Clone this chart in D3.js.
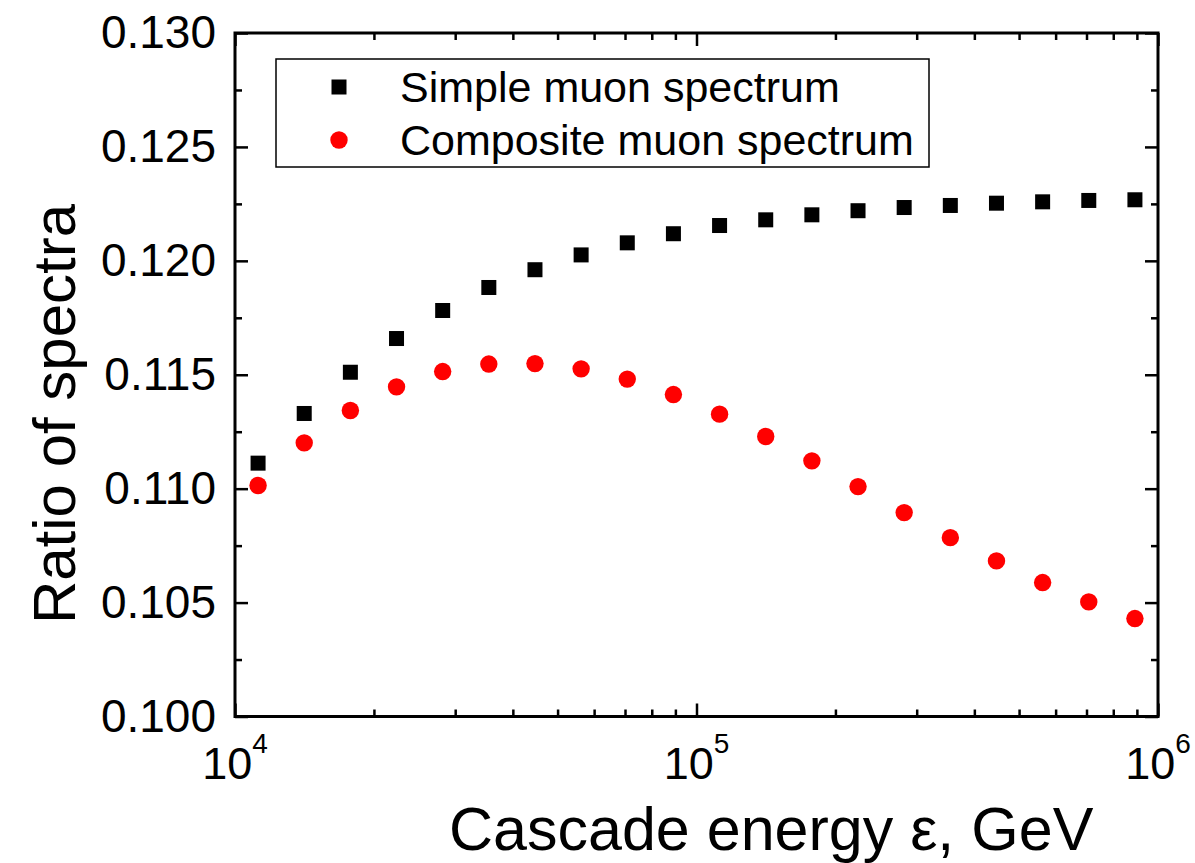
<!DOCTYPE html>
<html lang="en">
<head>
  <meta charset="UTF-8">
  <title>Ratio of spectra</title>
  <script src="https://d3js.org/d3.v7.min.js"></script>
  <style>
    body { margin: 0; background: #fff; }
    text { font-family: Arial, "Liberation Sans", sans-serif; fill: #000; }
  </style>
</head>
<body>
  <div id="chart"></div>

  <script>
    // Cascade energies, GeV (log spaced points)
    const energies = [11220, 14125, 17783, 22387, 28184, 35481, 44668, 56234, 70795, 89125,
      112202, 141254, 177828, 223872, 281838, 354813, 446684, 562341, 707946, 891251];

    // Simple muon spectrum (squares)
    const simpleRatio = [0.11112, 0.11330, 0.11511, 0.11659, 0.11782, 0.11883, 0.11961, 0.12026, 0.12079, 0.12119,
      0.12155, 0.12180, 0.12202, 0.12220, 0.12234, 0.12243, 0.12253, 0.12259, 0.12265, 0.12268];

    // Composite muon spectrum (circles)
    const compositeRatio = [0.11014, 0.11201, 0.11343, 0.11447, 0.11514, 0.11547, 0.11549, 0.11526, 0.11481, 0.11413,
      0.11327, 0.11229, 0.11122, 0.11009, 0.10895, 0.10785, 0.10683, 0.10588, 0.10503, 0.10430];

    const yTicks = [0.100, 0.105, 0.110, 0.115, 0.120, 0.125, 0.130];
    const yMinorTicks = [0.1025, 0.1075, 0.1125, 0.1175, 0.1225, 0.1275];
    const xTickExp = [4, 5, 6];
    const legendLabels = ['Simple muon spectrum', 'Composite muon spectrum'];

    function render() {
      const W = 1195, H = 863;
      const left = 235, right = 1158, top = 33, bottom = 716.5;

      const svg = d3.select('#chart').append('svg')
        .attr('width', W)
        .attr('height', H);

      const x = d3.scaleLog().domain([1e4, 1e6]).range([left, right]);
      const y = d3.scaleLinear().domain([0.1, 0.13]).range([bottom, top]);

      const xMajor = xTickExp.map(e => Math.pow(10, e));
      const xMinor = x.ticks().filter(v => !xMajor.includes(v));

      // axes with inward ticks on all four sides
      function styleAxis(g) {
        g.select('.domain').remove();
        g.selectAll('.tick line').attr('stroke', '#000').attr('stroke-width', 2.5);
      }

      svg.append('g').attr('transform', `translate(0,${bottom})`)
        .call(d3.axisBottom(x).tickValues(xMajor).tickSize(-13).tickFormat(''))
        .call(styleAxis);
      svg.append('g').attr('transform', `translate(0,${bottom})`)
        .call(d3.axisBottom(x).tickValues(xMinor).tickSize(-7).tickFormat(''))
        .call(styleAxis);
      svg.append('g').attr('transform', `translate(0,${top})`)
        .call(d3.axisTop(x).tickValues(xMajor).tickSize(-13).tickFormat(''))
        .call(styleAxis);
      svg.append('g').attr('transform', `translate(0,${top})`)
        .call(d3.axisTop(x).tickValues(xMinor).tickSize(-7).tickFormat(''))
        .call(styleAxis);

      const yLeft = svg.append('g').attr('transform', `translate(${left},0)`)
        .call(d3.axisLeft(y).tickValues(yTicks).tickSize(-13).tickPadding(19).tickFormat(d3.format('.3f')))
        .call(styleAxis);
      yLeft.selectAll('.tick text')
        .attr('font-size', '46px')
        .attr('font-family', 'Arial, "Liberation Sans", sans-serif')
        .attr('fill', '#000');
      svg.append('g').attr('transform', `translate(${left},0)`)
        .call(d3.axisLeft(y).tickValues(yMinorTicks).tickSize(-7).tickFormat(''))
        .call(styleAxis);
      svg.append('g').attr('transform', `translate(${right},0)`)
        .call(d3.axisRight(y).tickValues(yTicks).tickSize(-13).tickFormat(''))
        .call(styleAxis);
      svg.append('g').attr('transform', `translate(${right},0)`)
        .call(d3.axisRight(y).tickValues(yMinorTicks).tickSize(-7).tickFormat(''))
        .call(styleAxis);

      // frame
      svg.append('rect')
        .attr('x', left).attr('y', top)
        .attr('width', right - left).attr('height', bottom - top)
        .attr('fill', 'none')
        .attr('stroke', '#000')
        .attr('stroke-width', 3);

      // x tick labels 10^n
      xTickExp.forEach(e => {
        const t = svg.append('text')
          .attr('x', x(Math.pow(10, e)))
          .attr('y', 779)
          .attr('text-anchor', 'middle')
          .attr('font-size', '45px');
        t.append('tspan').text('10');
        t.append('tspan').attr('font-size', '28px').attr('dy', -26).text(e);
      });

      // axis titles
      svg.append('text')
        .attr('transform', 'translate(75,414) rotate(-90)')
        .attr('text-anchor', 'middle')
        .attr('font-size', '60px')
        .text('Ratio of spectra');

      svg.append('text')
        .attr('x', 449)
        .attr('y', 850)
        .attr('font-size', '61px')
        .text('Cascade energy ε, GeV');

      // data
      const side = 15;
      svg.append('g').selectAll('rect')
        .data(energies.map((e, i) => [e, simpleRatio[i]]))
        .join('rect')
        .attr('x', d => x(d[0]) - side / 2)
        .attr('y', d => y(d[1]) - side / 2)
        .attr('width', side)
        .attr('height', side)
        .attr('fill', '#000');

      svg.append('g').selectAll('circle')
        .data(energies.map((e, i) => [e, compositeRatio[i]]))
        .join('circle')
        .attr('cx', d => x(d[0]))
        .attr('cy', d => y(d[1]))
        .attr('r', 8.7)
        .attr('fill', '#ff0000');

      // legend
      const lg = svg.append('g');
      lg.append('rect')
        .attr('x', 276).attr('y', 59)
        .attr('width', 653).attr('height', 108)
        .attr('fill', '#fff')
        .attr('stroke', '#000')
        .attr('stroke-width', 1.5);
      lg.append('rect')
        .attr('x', 339 - side / 2).attr('y', 87 - side / 2)
        .attr('width', side).attr('height', side)
        .attr('fill', '#000');
      lg.append('circle')
        .attr('cx', 339).attr('cy', 140).attr('r', 8.7)
        .attr('fill', '#ff0000');
      legendLabels.forEach((lbl, i) => {
        lg.append('text')
          .attr('x', 400)
          .attr('y', 102 + i * 53)
          .attr('font-size', '43px')
          .text(lbl);
      });
    }

    document.addEventListener('DOMContentLoaded', render);
  </script>
</body>
</html>
